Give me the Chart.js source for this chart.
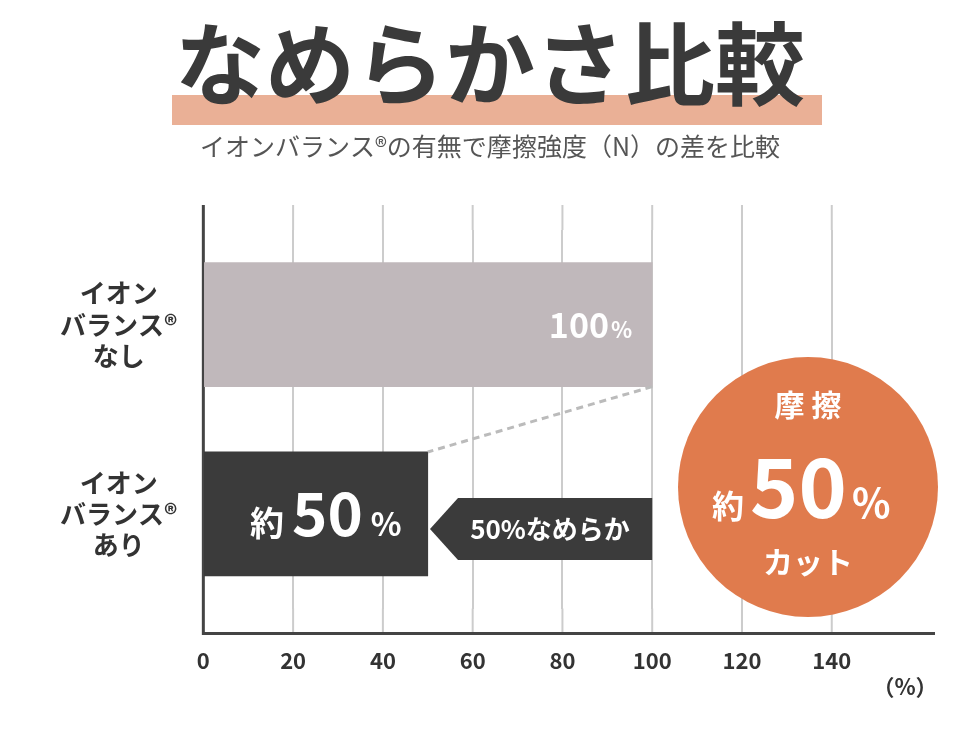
<!DOCTYPE html>
<html><head><meta charset="utf-8">
<script src="https://cdn.jsdelivr.net/npm/chart.js@4/dist/chart.umd.min.js"></script>
<style>html,body{margin:0;padding:0;background:#fff}#w{width:980px;height:735px}</style>
</head><body><div id="w"><canvas id="c"></canvas></div>
<script>
const categories = [["イオン","バランス®","なし"],["イオン","バランス®","あり"]];
const values = [100, 50];
const barColors = ["#c0b8bb", "#3b3b3b"];
const xTicks = [0,20,40,60,80,100,120,140];
const F = '"Noto Sans CJK JP","Noto Sans",sans-serif';
const EXT = 25;

const deco = {
  id:'deco',
  beforeDraw(ch){
    const c=ch.ctx; c.save();
    c.fillStyle='#eab096'; c.fillRect(172,95,650,30);
    c.fillStyle='#3a3a3a'; c.font='bold 90px '+F; c.textAlign='center'; c.textBaseline='middle';
    c.fillText('なめらかさ比較',490,64);
    c.fillStyle='#555'; c.font='25px '+F;
    c.fillText('イオンバランス®の有無で摩擦強度（N）の差を比較',490,146);
    c.restore();
  },
  beforeDatasetsDraw(ch){
    const c=ch.ctx, a=ch.chartArea, x=ch.scales.x; c.save();
    c.strokeStyle='#ccc'; c.lineWidth=2;
    xTicks.forEach(v=>{ if(v===0) return; const px=x.getPixelForValue(v);
      c.beginPath(); c.moveTo(px,a.top-EXT); c.lineTo(px,a.top); c.moveTo(px,a.bottom); c.lineTo(px,a.bottom+EXT); c.stroke(); });
    c.strokeStyle='#444'; c.lineWidth=3;
    c.beginPath(); c.moveTo(a.left,a.top-EXT); c.lineTo(a.left,a.bottom+EXT); c.lineTo(a.right,a.bottom+EXT); c.stroke();
    c.restore();
  },
  afterDraw(ch){
    const c=ch.ctx, x=ch.scales.x, m=ch.getDatasetMeta(0).data;
    c.save();
    const b0=m[0], b1=m[1];
    const h0=b0.height/2, h1=b1.height/2;
    c.strokeStyle='#bbb'; c.lineWidth=3; c.setLineDash([7,5]);
    c.beginPath(); c.moveTo(b0.x,b0.y+h0); c.lineTo(b1.x,b1.y-h1); c.stroke(); c.setLineDash([]);
    c.fillStyle='#fff'; c.textBaseline='alphabetic'; c.textAlign='left';
    c.font='bold 34px '+F; const t1=String(values[0]); const w1=c.measureText(t1).width;
    c.font='bold 22px '+F; const wp=c.measureText('%').width;
    let sx=b0.x-22-wp-w1; c.font='bold 34px '+F; c.fillText(t1,sx,b0.y+13); c.font='bold 22px '+F; c.fillText('%',sx+w1+2,b0.y+13);
    const by=b1.y+22;
    c.font='bold 34px '+F; c.fillText('約',250,by);
    c.font='bold 60px '+F; const t2=String(values[1]); const w2=c.measureText(t2).width; c.fillText(t2,292,by);
    c.font='bold 32px '+F; c.fillText('%',292+w2+8,by);
    const right=x.getPixelForValue(100), cy=529;
    c.fillStyle='#3b3b3b'; c.beginPath();
    c.moveTo(430,cy); c.lineTo(458,cy-31); c.lineTo(right,cy-31); c.lineTo(right,cy+31); c.lineTo(458,cy+31); c.closePath(); c.fill();
    c.fillStyle='#fff'; c.font='bold 26px '+F; c.textAlign='center'; c.textBaseline='middle';
    c.fillText('50%なめらか',550,cy);
    c.fillStyle='#e07b4d'; c.beginPath(); c.arc(808,487,130,0,Math.PI*2); c.fill();
    c.fillStyle='#fff'; c.font='bold 30px '+F; c.fillText('摩 擦',808,405);
    c.fillText('カット',808,562);
    c.textBaseline='alphabetic'; c.textAlign='left';
    c.font='bold 32px '+F; c.fillText('約',712,518);
    c.font='bold 82px '+F; c.fillText('50',750,518);
    c.font='bold 40px '+F; c.fillText('%',852,518);
    c.fillStyle='#333'; c.font='bold 22px '+F; c.textAlign='center'; c.fillText('（%）',905,695);
    c.restore();
  }
};

new Chart(document.getElementById('c'),{
  type:'bar',
  data:{labels:categories,datasets:[{data:values,backgroundColor:barColors,barThickness:124}]},
  options:{
    indexAxis:'y',responsive:true,maintainAspectRatio:false,animation:false,devicePixelRatio:1,
    layout:{padding:{top:230,right:45,bottom:22,left:42}},
    plugins:{legend:{display:false},tooltip:{enabled:false}},
    scales:{
      x:{min:0,max:163,afterBuildTicks:a=>{a.ticks=xTicks.map(v=>({value:v}));},
        grid:{color:c=>c.tick&&c.tick.value===0?'rgba(0,0,0,0)':'#ccc',lineWidth:2,drawTicks:false},border:{display:false},
        ticks:{color:'#333',font:{family:F,size:22,weight:'bold'},padding:14+EXT}},
      y:{grid:{display:false},border:{display:false},
        ticks:{color:'#333',font:{family:F,size:26,weight:'bold'},crossAlign:'center',padding:18,lineHeight:1.25}}
    }
  },
  plugins:[deco]
});
</script></body></html>
